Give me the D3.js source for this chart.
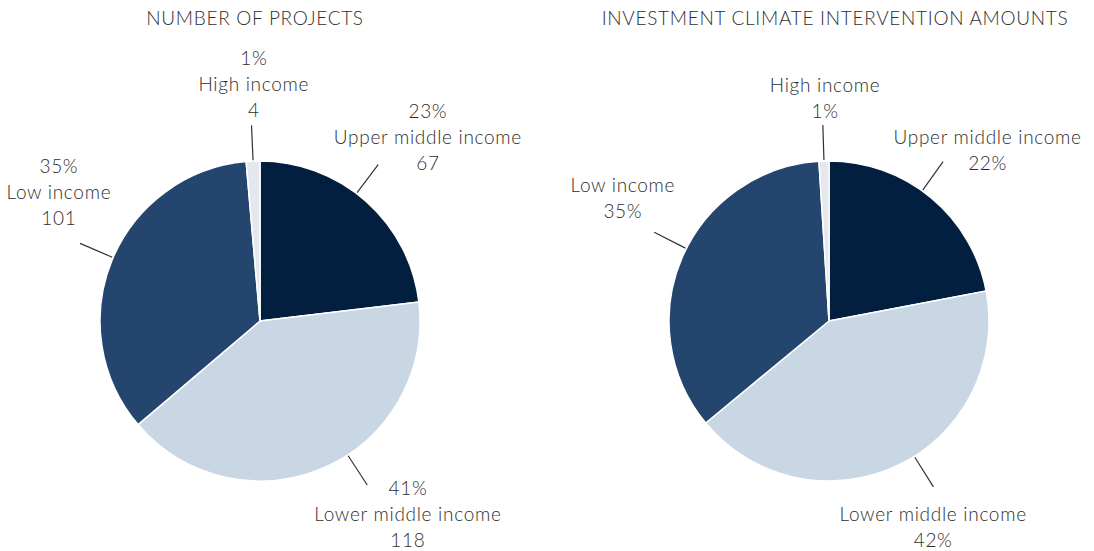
<!DOCTYPE html>
<head>
<style type="text/css">
    body {
      font-family: Lato, "Open Sans", sans-serif;
      margin: 0;
      background: #fff;
    }
    text { fill: #2e2e2e; font-weight: 300; letter-spacing: 0.7px; }
</style>
</head>
<script src="https://d3js.org/d3.v7.min.js"></script>
<body>
    <svg width="1094" height="551"></svg>
    <script>
        // data
        var categories = ["Upper middle income", "Lower middle income", "Low income", "High income"];
        var projectCounts = [67, 118, 101, 4];
        var amountShares = [22, 42, 35, 1]; // percent of amounts
        var titles = ["NUMBER OF PROJECTS", "INVESTMENT CLIMATE INTERVENTION AMOUNTS"];
        var colors = ["#021f3f", "#c9d6e3", "#24456d", "#e4e7ee"];

        var width = 1094,
            height = 551,
            radius = 160;

        var svg = d3.select("svg");

        // layout of labels: line angle nudge (deg), label polar position (deg, px)
        var layouts = [
            { cx: 260, cy: 321, titleX: 255,
              nudge: [-4.5, -9.6, 1, 0],
              lab: [[42.4, 249], [142.5, 243], [302.7, 239], [358.5, 237]] },
            { cx: 829, cy: 321, titleX: 835,
              nudge: [-4, -7, 3.5, 0],
              lab: [[42.9, 233], [153.2, 231], [300.8, 240], [359, 223]] }
        ];

        var pie = d3.pie().sort(null).value(function(d) { return d; });
        var arc = d3.arc().innerRadius(0).outerRadius(radius);
        var rad = Math.PI / 180;

        function drawPie(values, idx, labelLines) {
            var L = layouts[idx];
            var total = d3.sum(values);
            var g = svg.append("g").attr("transform", "translate(" + L.cx + "," + L.cy + ")");

            svg.append("text")
                .attr("x", L.titleX).attr("y", 25)
                .attr("text-anchor", "middle")
                .style("font-size", "19px")
                .text(titles[idx]);

            var arcs = pie(values);

            g.selectAll(".slice")
                .data(arcs)
                .enter().append("path")
                .attr("class", "slice")
                .attr("d", arc)
                .attr("fill", function(d, i) { return colors[i]; })
                .style("stroke", "#fff")
                .style("stroke-width", 1.5);

            arcs.forEach(function(d, i) {
                var mid = (d.startAngle + d.endAngle) / 2 + L.nudge[i] * rad;
                var r0 = radius + 1, r1 = radius + 36;
                g.append("line")
                    .attr("x1", Math.sin(mid) * r0).attr("y1", -Math.cos(mid) * r0)
                    .attr("x2", Math.sin(mid) * r1).attr("y2", -Math.cos(mid) * r1)
                    .style("stroke", "#333").style("stroke-width", 1.2);

                var la = L.lab[i][0] * rad, lr = L.lab[i][1];
                var lx = Math.sin(la) * lr, ly = -Math.cos(la) * lr;
                var lines = labelLines(d, i, total);
                var lh = 26;
                var t = g.append("text")
                    .attr("text-anchor", "middle")
                    .style("font-size", "19px");
                lines.forEach(function(s, k) {
                    t.append("tspan")
                        .attr("x", lx)
                        .attr("y", ly + (k - (lines.length - 1) / 2) * lh + 7)
                        .text(s);
                });
            });
        }

        drawPie(projectCounts, 0, function(d, i, total) {
            return [Math.round(d.value / total * 100) + "%", categories[i], d.value];
        });
        drawPie(amountShares, 1, function(d, i, total) {
            return [categories[i], Math.round(d.value / total * 100) + "%"];
        });
    </script>
</body>
